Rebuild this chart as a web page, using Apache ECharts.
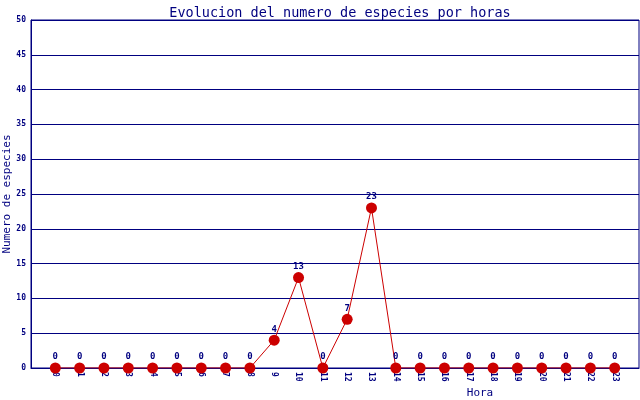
<!DOCTYPE html>
<html><head><meta charset="utf-8">
<script src="https://cdn.jsdelivr.net/npm/echarts@6/dist/echarts.min.js"></script>
<style>html,body{margin:0;padding:0;background:#fff}#c{width:640px;height:400px}</style>
</head><body><div id="c"></div>
<script>
const hours = [0,1,2,3,4,5,6,7,8,9,10,11,12,13,14,15,16,17,18,19,20,21,22,23];
const species = [0,0,0,0,0,0,0,0,0,4,13,0,7,23,0,0,0,0,0,0,0,0,0,0];
const yTicks = [0,5,10,15,20,25,30,35,40,45,50];
const titleText = 'Evolucion del numero de especies por horas';
const xName = 'Hora';
const yName = 'Numero de especies';

const navy = '#000080';
const mono = 'DejaVu Sans Mono';
const chart = echarts.init(document.getElementById('c'), null, {renderer:'canvas'});
chart.setOption({
  animation:false,
  backgroundColor:'#fff',
  title:{text:titleText,left:335,top:1,textAlign:'center',
    textStyle:{color:navy,fontFamily:mono,fontSize:13.5,fontWeight:'normal'}},
  grid:{left:31,right:1,top:20,bottom:32,show:true,borderColor:navy,borderWidth:1,
    containLabel:false,outerBoundsMode:'none'},
  xAxis:{type:'value',min:-1,max:24,interval:1,
    name:xName,nameLocation:'middle',nameGap:20,nameMoveOverlap:false,
    nameTextStyle:{color:navy,fontFamily:mono,fontSize:11,padding:[0,0,0,290]},
    axisLine:{show:true,onZero:false,lineStyle:{color:navy}},
    axisTick:{show:false},splitLine:{show:false},
    axisLabel:{rotate:-90,color:navy,fontFamily:mono,fontSize:8,fontWeight:'bold',margin:4,
      formatter:v=> hours.indexOf(v)>=0 ? String(v) : ''}},
  yAxis:{type:'value',min:yTicks[0],max:yTicks[yTicks.length-1],interval:5,
    name:yName,nameLocation:'middle',nameGap:18,nameMoveOverlap:false,
    nameTextStyle:{color:navy,fontFamily:mono,fontSize:11},
    axisLine:{show:true,onZero:false,lineStyle:{color:navy}},
    axisTick:{show:false},
    splitLine:{show:true,lineStyle:{color:navy,width:1}},
    axisLabel:{color:navy,fontFamily:mono,fontSize:8,fontWeight:'bold',margin:5}},
  series:[{type:'line',data:hours.map((h,i)=>[h,species[i]]),
    symbol:'circle',symbolSize:11,
    itemStyle:{color:'#cc0000'},
    lineStyle:{color:'#cc0000',width:1},
    label:{show:true,position:'top',distance:1,color:navy,fontFamily:mono,fontSize:9,fontWeight:'bold'}}]
});
</script></body></html>
